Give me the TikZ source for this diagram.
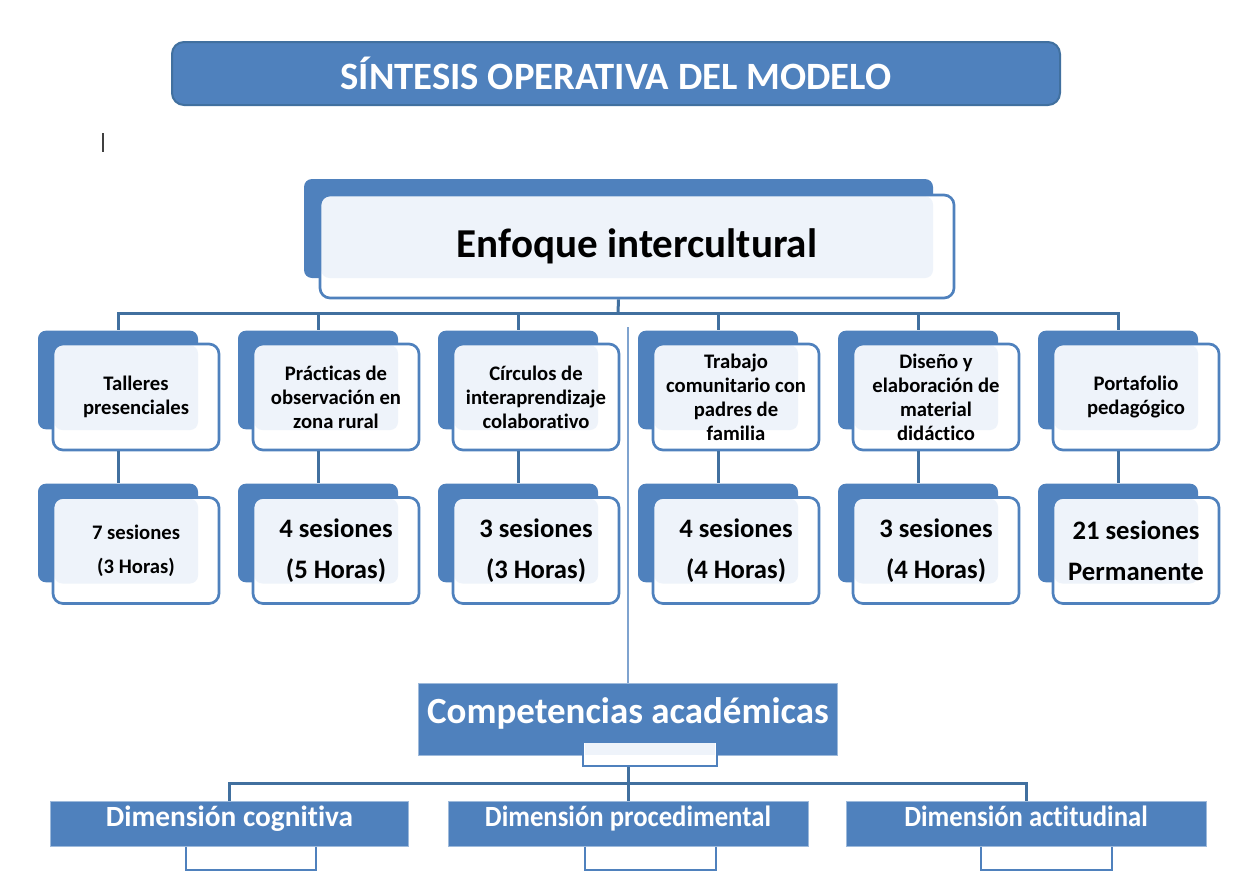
\documentclass[tikz,border=0pt]{standalone}
\usepackage{fontspec}
\setmainfont{Carlito}[Ligatures=NoCommon]
\newfontfamily\estrecha{Carlito}[Ligatures=NoCommon, FakeStretch=0.91]
\definecolor{azul}{HTML}{4F81BD}
\definecolor{azulosc}{HTML}{41709F}
\definecolor{celeste}{HTML}{EEF3FA}
\definecolor{hilocol}{HTML}{7FA3CF}
\tikzset{
  atras/.style={fill=azul, rounded corners=6pt, minimum width=120pt, minimum height=74pt, inner sep=0pt},
  frente/.style={draw=azul, line width=2pt, fill=white, rounded corners=7.5pt,
    minimum width=124.5pt, minimum height=79.5pt, inner sep=0pt, align=center,
    font=\bfseries\fontsize{15.5}{18}\selectfont,
    path picture={\fill[celeste, rounded corners=6pt]
      ([xshift=1pt,yshift=-1pt]path picture bounding box.north west) rectangle
      ([xshift=-15.75pt,yshift=15pt]path picture bounding box.south east);}},
  horas/.style={frente, font=\bfseries\fontsize{20}{30.75}\selectfont},
  caja/.style={fill=azul, draw=azul!55!white, line width=0.6pt, text=white, inner sep=0pt, align=center},
  dim/.style={caja, minimum width=268.5pt, minimum height=33.75pt,
    font=\bfseries\fontsize{22}{24}\selectfont, text height=16pt, text depth=11.2pt},
  dimest/.style={dim, minimum width=270pt, font=\estrecha\bfseries\fontsize{22}{24}\selectfont},
  sub/.style={draw=azul, line width=1.5pt, fill=white, inner sep=0pt},
  enlace/.style={draw=azulosc, line width=2.25pt},
  hilo/.style={draw=hilocol, line width=1.1pt}
}
\begin{document}
\begin{tikzpicture}[x=0.75pt, y=-0.75pt]
  \useasboundingbox (0,0) rectangle (1248,885);
  % titulo
  \node[caja, draw=azulosc, line width=1.5pt, rounded corners=9pt, minimum width=666pt,
    minimum height=47.25pt, font=\bfseries\fontsize{29}{32}\selectfont] (titulo) at (616,73.5)
    {SÍNTESIS OPERATIVA DEL MODELO};
  \draw[line width=1.5pt, black!75] (103,133) -- (103,152);
  % enfoque
  \node[atras, minimum width=471.75pt, minimum height=74.25pt] (enfb) at (618.5,228.5) {};
  \node[frente, minimum width=475.5pt, minimum height=77.25pt,
    font=\bfseries\fontsize{30.8}{36}\selectfont] (enf) at (637,246.5) {Enfoque intercultural};
  % actividades
  \node[atras] (act1b) at (118,380) {};
  \node[frente] (act1) at (136,397) {Talleres\\presenciales};
  \node[atras] (act2b) at (318,380) {};
  \node[frente] (act2) at (336,397) {Prácticas de\\observación en\\zona rural};
  \node[atras] (act3b) at (518,380) {};
  \node[frente] (act3) at (536,397) {Círculos de\\interaprendizaje\\colaborativo};
  \node[atras] (act4b) at (718,380) {};
  \node[frente] (act4) at (736,397) {Trabajo\\comunitario con\\padres de\\familia};
  \node[atras] (act5b) at (918,380) {};
  \node[frente] (act5) at (936,397) {Diseño y\\elaboración de\\material\\didáctico};
  \node[atras] (act6b) at (1118,380) {};
  \node[frente] (act6) at (1136,397) {Portafolio\\pedagógico};
  % sesiones
  \node[atras] (ses1b) at (118,533) {};
  \node[frente, font=\bfseries\fontsize{15.5}{25.5}\selectfont] (ses1) at (136,550.5) {7 sesiones\\(3 Horas)};
  \node[atras] (ses2b) at (318,533) {};
  \node[horas] (ses2) at (336,550.5) {4 sesiones\\(5 Horas)};
  \node[atras] (ses3b) at (518,533) {};
  \node[horas] (ses3) at (536,550.5) {3 sesiones\\(3 Horas)};
  \node[atras] (ses4b) at (718,533) {};
  \node[horas] (ses4) at (736,550.5) {4 sesiones\\(4 Horas)};
  \node[atras] (ses5b) at (918,533) {};
  \node[horas] (ses5) at (936,550.5) {3 sesiones\\(4 Horas)};
  \node[atras] (ses6b) at (1118,533) {};
  \node[horas] (ses6) at (1136,550.5) {21 sesiones\\Permanente};
  % competencias
  \node[caja, minimum width=314.25pt, minimum height=54pt, font=\bfseries\fontsize{27.7}{30}\selectfont,
    text height=21pt, text depth=14pt] (comp) at (628,719) {Competencias académicas};
  \node[sub, minimum width=100.5pt, minimum height=18pt,
    path picture={\fill[celeste] ([xshift=1.5pt,yshift=-1pt]path picture bounding box.north west)
      rectangle ([xshift=-1.5pt,yshift=-9.75pt]path picture bounding box.north east);}] (compsub) at (650,754) {};
  \node[sub, minimum width=97.5pt, minimum height=30pt] (dim1s) at (251,850) {};
  \node[sub, minimum width=98.25pt, minimum height=30pt] (dim2s) at (650.5,850) {};
  \node[sub, minimum width=98.25pt, minimum height=30pt] (dim3s) at (1046.5,850) {};
  \node[dim] (dim1) at (229.5,823.5) {Dimensión cognitiva};
  \node[dimest] (dim2) at (628,823.5) {Dimensión procedimental};
  \node[dimest] (dim3) at (1026,823.5) {Dimensión actitudinal};
  % conectores
  \coordinate (bus) at (618,313);
  \coordinate (bus2) at (628,783);
  \coordinate (guia) at (628,327);
  \begin{scope}[enlace]
    \draw (enfb.south |- enf.south) -- (bus);
    \draw (bus) -| (act1b.north);
    \draw (bus) -| (act2b.north);
    \draw (bus) -| (act3b.north);
    \draw (bus) -| (act4b.north);
    \draw (bus) -| (act5b.north);
    \draw (bus) -| (act6b.north);
    \draw (act1b.south |- act1.south) -- (ses1b.north);
    \draw (act2b.south |- act2.south) -- (ses2b.north);
    \draw (act3b.south |- act3.south) -- (ses3b.north);
    \draw (act4b.south |- act4.south) -- (ses4b.north);
    \draw (act5b.south |- act5.south) -- (ses5b.north);
    \draw (act6b.south |- act6.south) -- (ses6b.north);
    \draw (comp.south |- compsub.south) -- (bus2);
    \draw (bus2) -| (dim1.north);
    \draw (bus2) -| (dim2.north);
    \draw (bus2) -| (dim3.north);
  \end{scope}
  \draw[hilo] (guia) -- (comp.north);
\end{tikzpicture}
\end{document}
